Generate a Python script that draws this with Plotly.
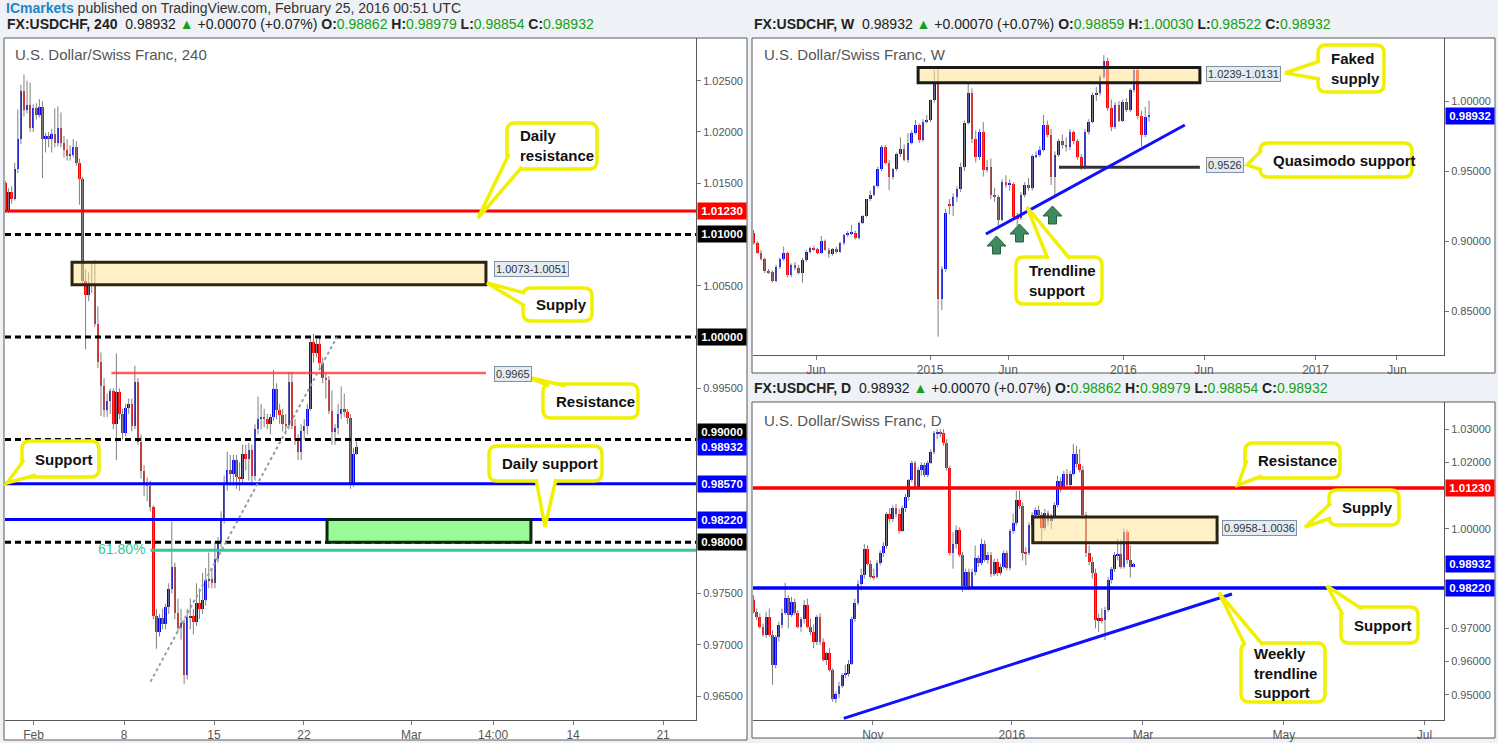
import plotly.graph_objects as go

W, H = 1498, 743

# ---------------- 4H candles (USDCHF 240) ----------------
h4_open = [1.0150,1.0124,1.0141,1.0135,1.0164,1.0193,1.0240,1.0221,1.0226,1.0204,1.0223,1.0217,1.0224,1.0193,1.0196,1.0193,1.0198,1.0189,1.0204,1.0189,
           1.0182,1.0177,1.0178,1.0185,1.0170,1.0154,1.0055,1.0041,1.0050,1.0052,1.0013,0.9976,0.9952,0.9929,0.9938,0.9947,0.9915,0.9946,0.9925,0.9906,
           0.9931,0.9935,0.9913,0.9956,0.9898,0.9869,0.9857,0.9855,0.9834,0.9728,0.9712,0.9726,0.9720,0.9737,0.9754,0.9776,0.9731,0.9716,0.9721,0.9670,
           0.9727,0.9728,0.9722,0.9741,0.9735,0.9744,0.9763,0.9764,0.9760,0.9784,0.9800,0.9822,0.9858,0.9870,0.9866,0.9880,0.9864,0.9862,0.9886,0.9881,
           0.9890,0.9865,0.9910,0.9920,0.9922,0.9920,0.9915,0.9922,0.9949,0.9929,0.9924,0.9915,0.9914,0.9956,0.9913,0.9900,0.9888,0.9908,0.9913,0.9930,
           0.9995,0.9984,0.9993,0.9975,0.9960,0.9958,0.9928,0.9907,0.9911,0.9925,0.9930,0.9927,0.9921,0.9858,0.9886]
h4_high = [1.0152,1.0145,1.0147,1.0170,1.0222,1.0246,1.0256,1.0250,1.0248,1.0227,1.0228,1.0232,1.0230,1.0199,1.0200,1.0203,1.0223,1.0225,1.0219,1.0196,
           1.0193,1.0187,1.0193,1.0191,1.0174,1.0156,1.0066,1.0063,1.0074,1.0075,1.0030,0.9985,0.9960,0.9945,0.9950,0.9950,0.9984,0.9950,0.9930,0.9935,
           0.9940,0.9940,0.9972,0.9960,0.9905,0.9875,0.9863,0.9860,0.9836,0.9735,0.9730,0.9735,0.9740,0.9760,0.9820,0.9780,0.9745,0.9735,0.9725,0.9735,
           0.9745,0.9735,0.9760,0.9755,0.9770,0.9775,0.9790,0.9775,0.9800,0.9805,0.9830,0.9865,0.9888,0.9885,0.9885,0.9885,0.9878,0.9895,0.9895,0.9897,
           0.9895,0.9915,0.9942,0.9935,0.9930,0.9925,0.9925,0.9968,0.9955,0.9935,0.9930,0.9925,0.9966,0.9966,0.9920,0.9905,0.9915,0.9920,0.9935,0.9998,
           1.0003,0.9998,1.0000,0.9980,0.9965,0.9962,0.9948,0.9915,0.9935,0.9952,0.9945,0.9930,0.9925,0.9892,0.9898]
h4_low = [1.0121,1.0121,1.0130,1.0133,1.0160,1.0188,1.0215,1.0218,1.0200,1.0200,1.0212,1.0214,1.0155,1.0180,1.0185,1.0180,1.0185,1.0186,1.0185,1.0175,
          1.0172,1.0172,1.0175,1.0167,1.0129,1.0050,0.9988,1.0035,1.0043,1.0010,0.9970,0.9923,0.9922,0.9922,0.9925,0.9910,0.9880,0.9920,0.9900,0.9903,
          0.9925,0.9908,0.9910,0.9895,0.9862,0.9845,0.9840,0.9830,0.9725,0.9696,0.9708,0.9715,0.9715,0.9730,0.9750,0.9725,0.9712,0.9705,0.9662,0.9666,
          0.9715,0.9710,0.9718,0.9725,0.9730,0.9738,0.9755,0.9755,0.9755,0.9780,0.9795,0.9818,0.9850,0.9855,0.9855,0.9852,0.9850,0.9858,0.9870,0.9860,
          0.9855,0.9860,0.9905,0.9910,0.9912,0.9910,0.9905,0.9918,0.9920,0.9915,0.9908,0.9905,0.9910,0.9910,0.9895,0.9880,0.9880,0.9900,0.9905,0.9928,
          0.9975,0.9980,0.9970,0.9955,0.9940,0.9925,0.9895,0.9895,0.9905,0.9920,0.9922,0.9915,0.9852,0.9854,0.9885]
h4_close = [1.0124,1.0141,1.0135,1.0164,1.0193,1.0240,1.0221,1.0226,1.0204,1.0223,1.0217,1.0224,1.0193,1.0196,1.0193,1.0198,1.0189,1.0204,1.0189,1.0182,
            1.0177,1.0178,1.0185,1.0170,1.0154,1.0055,1.0041,1.0050,1.0052,1.0013,0.9976,0.9952,0.9929,0.9938,0.9947,0.9915,0.9946,0.9925,0.9906,0.9931,
            0.9935,0.9913,0.9956,0.9898,0.9869,0.9857,0.9855,0.9834,0.9728,0.9712,0.9726,0.9720,0.9737,0.9754,0.9776,0.9731,0.9716,0.9721,0.9670,0.9727,
            0.9728,0.9722,0.9741,0.9735,0.9744,0.9763,0.9764,0.9760,0.9784,0.9800,0.9822,0.9858,0.9870,0.9866,0.9880,0.9864,0.9862,0.9886,0.9881,0.9890,
            0.9865,0.9910,0.9920,0.9922,0.9920,0.9915,0.9922,0.9949,0.9929,0.9924,0.9915,0.9914,0.9956,0.9913,0.9900,0.9888,0.9908,0.9913,0.9930,0.9995,
            0.9984,0.9993,0.9975,0.9960,0.9958,0.9928,0.9907,0.9911,0.9925,0.9930,0.9927,0.9921,0.9858,0.9886,0.9893]
h4_tick_text = ["Feb", "8", "15", "22", "Mar", "14:00", "14", "21"]
h4_tick_pos = [9.1, 38.5, 67.7, 96.9, 131.8, 158.3, 184.3, 213.5]

# ---------------- Weekly candles ----------------
w_open = [0.9055,0.8983,0.8917,0.8869,0.8788,0.8776,0.8717,0.8817,0.8869,0.8917,0.8757,0.8829,0.8805,0.8774,0.8864,0.8924,0.8948,0.8941,0.8917,0.9000,
          0.8936,0.8905,0.8941,0.8924,0.8983,0.9043,0.9055,0.9060,0.9019,0.9131,0.9179,0.9298,0.9329,0.9393,0.9512,0.9669,0.9560,0.9455,0.9512,0.9619,
          0.9655,0.9579,0.9702,0.9774,0.9829,0.9720,0.9853,0.9864,1.0007,1.0131,0.8583,0.8798,0.9264,0.9250,0.9312,0.9369,0.9526,0.9841,1.0055,0.9726,
          0.9602,0.9781,0.9507,0.9526,0.9329,0.9317,0.9150,0.9424,0.9400,0.9406,0.9169,0.9162,0.9329,0.9400,0.9376,0.9607,0.9614,0.9650,0.9829,0.9757,
          0.9455,0.9614,0.9714,0.9686,0.9669,0.9781,0.9714,0.9602,0.9531,0.9781,0.9853,1.0043,1.0055,1.0174,1.0288,0.9948,0.9817,0.9971,0.9860,0.9995,
          0.9936,1.0078,1.0221,0.9893,0.9757,0.9886]
w_high = [0.9080,0.9000,0.8935,0.8880,0.8800,0.8790,0.8830,0.8880,0.8960,0.8925,0.8840,0.8850,0.8830,0.8880,0.8935,0.8960,0.8965,0.8950,0.9036,0.9010,
          0.8950,0.8950,0.8960,0.8995,0.9050,0.9070,0.9114,0.9075,0.9140,0.9185,0.9300,0.9360,0.9400,0.9530,0.9686,0.9686,0.9580,0.9520,0.9630,0.9740,
          0.9690,0.9770,0.9790,0.9865,0.9840,0.9870,0.9900,1.0010,1.0222,1.0240,0.8820,0.9230,0.9300,0.9340,0.9390,0.9560,0.9860,1.0129,1.0090,0.9790,
          0.9800,0.9850,0.9580,0.9590,0.9380,0.9330,0.9440,0.9470,0.9440,0.9420,0.9200,0.9350,0.9420,0.9450,0.9620,0.9640,0.9680,0.9900,0.9860,0.9800,
          0.9640,0.9730,0.9760,0.9740,0.9800,0.9790,0.9730,0.9620,0.9800,0.9870,1.0060,1.0100,1.0190,1.0328,1.0310,1.0010,0.9990,1.0000,1.0010,1.0020,
          1.0090,1.0250,1.0240,0.9930,0.9960,1.0003]
w_low = [0.8975,0.8910,0.8860,0.8770,0.8765,0.8702,0.8705,0.8800,0.8860,0.8740,0.8740,0.8790,0.8760,0.8702,0.8850,0.8910,0.8930,0.8905,0.8905,0.8930,
         0.8880,0.8895,0.8910,0.8915,0.8970,0.9030,0.9040,0.9010,0.9010,0.9120,0.9170,0.9285,0.9320,0.9380,0.9500,0.9550,0.9364,0.9440,0.9500,0.9600,
         0.9570,0.9560,0.9690,0.9760,0.9700,0.9710,0.9840,0.9850,0.9990,0.8317,0.8507,0.8780,0.9190,0.9180,0.9280,0.9350,0.9500,0.9830,0.9700,0.9560,
         0.9580,0.9460,0.9490,0.9300,0.9280,0.9091,0.9140,0.9380,0.9360,0.9150,0.9110,0.9150,0.9310,0.9360,0.9360,0.9590,0.9600,0.9640,0.9740,0.9400,
         0.9321,0.9600,0.9660,0.9640,0.9650,0.9690,0.9580,0.9505,0.9510,0.9760,0.9840,1.0000,1.0040,1.0160,0.9930,0.9785,0.9800,0.9850,0.9850,0.9920,
         0.9920,1.0060,0.9870,0.9674,0.9740,0.9852]
w_close = [0.8983,0.8917,0.8869,0.8788,0.8776,0.8717,0.8817,0.8869,0.8917,0.8757,0.8829,0.8805,0.8774,0.8864,0.8924,0.8948,0.8941,0.8917,0.9000,0.8936,
           0.8905,0.8941,0.8924,0.8983,0.9043,0.9055,0.9060,0.9019,0.9131,0.9179,0.9298,0.9329,0.9393,0.9512,0.9669,0.9560,0.9455,0.9512,0.9619,0.9655,
           0.9579,0.9702,0.9774,0.9829,0.9720,0.9853,0.9864,1.0007,1.0131,0.8583,0.8798,0.9198,0.9250,0.9312,0.9369,0.9526,0.9841,1.0055,0.9726,0.9602,
           0.9781,0.9507,0.9526,0.9329,0.9317,0.9150,0.9424,0.9400,0.9406,0.9169,0.9162,0.9329,0.9400,0.9376,0.9607,0.9614,0.9650,0.9829,0.9757,0.9455,
           0.9614,0.9714,0.9686,0.9669,0.9781,0.9714,0.9602,0.9531,0.9781,0.9853,1.0043,1.0055,1.0174,1.0288,0.9948,0.9817,0.9971,0.9860,0.9995,0.9936,
           1.0078,1.0221,0.9893,0.9757,0.9883,0.9893]
w_tick_text = ["Jun", "2015", "Jun", "2016", "Jun", "2017", "Jun"]
w_tick_pos = [16.6, 46.9, 67.6, 98.2, 119.6, 149.2, 170.8]

# ---------------- Daily candles ----------------
d_open = [0.9786,0.9748,0.9734,0.9705,0.9680,0.9735,0.9680,0.9590,0.9675,0.9710,0.9745,0.9791,0.9740,0.9781,0.9747,0.9705,0.9727,0.9771,0.9705,0.9690,
          0.9660,0.9735,0.9660,0.9605,0.9625,0.9575,0.9486,0.9502,0.9527,0.9560,0.9562,0.9593,0.9727,0.9778,0.9834,0.9861,0.9938,0.9894,0.9856,0.9854,
          0.9898,0.9928,0.9948,1.0044,1.0029,1.0062,1.0045,0.9994,1.0062,1.0095,1.0147,1.0197,1.0127,1.0177,1.0192,1.0162,1.0199,1.0232,1.0288,1.0293,
          1.0288,1.0258,1.0182,0.9928,0.9954,0.9996,0.9921,0.9828,0.9871,0.9826,0.9871,0.9911,0.9896,0.9954,0.9906,0.9921,0.9864,0.9900,0.9868,0.9886,
          0.9928,0.9881,0.9993,1.0017,1.0087,1.0069,0.9928,0.9926,1.0011,1.0042,1.0057,1.0042,1.0004,1.0047,1.0025,1.0037,1.0072,1.0144,1.0127,1.0165,
          1.0132,1.0165,1.0225,1.0195,1.0177,1.0042,0.9926,0.9901,0.9866,0.9725,0.9730,0.9725,0.9757,0.9846,0.9878,0.9921,0.9924,0.9886,0.9991,0.9906,
          0.9886]
d_high = [0.9800,0.9760,0.9745,0.9715,0.9750,0.9760,0.9695,0.9680,0.9720,0.9760,0.9838,0.9800,0.9795,0.9790,0.9755,0.9735,0.9785,0.9790,0.9730,0.9712,
          0.9740,0.9745,0.9670,0.9630,0.9640,0.9580,0.9510,0.9540,0.9565,0.9590,0.9605,0.9735,0.9790,0.9845,0.9880,0.9955,0.9950,0.9905,0.9880,0.9905,
          0.9935,0.9960,1.0050,1.0062,1.0070,1.0075,1.0060,1.0070,1.0105,1.0150,1.0205,1.0205,1.0185,1.0200,1.0200,1.0205,1.0240,1.0295,1.0300,1.0300,
          1.0300,1.0270,1.0190,0.9990,1.0010,1.0005,0.9930,0.9880,0.9880,0.9880,0.9950,0.9920,0.9970,0.9965,0.9930,0.9930,0.9910,0.9910,0.9895,0.9935,
          0.9935,1.0000,1.0045,1.0115,1.0115,1.0080,0.9945,1.0020,1.0050,1.0065,1.0070,1.0050,1.0060,1.0055,1.0045,1.0080,1.0160,1.0155,1.0175,1.0180,
          1.0175,1.0255,1.0250,1.0240,1.0190,1.0050,0.9950,0.9915,0.9880,0.9745,0.9760,0.9765,0.9855,0.9885,0.9930,0.9970,0.9968,1.0001,0.9998,0.9950,
          0.9898]
d_low = [0.9745,0.9725,0.9700,0.9675,0.9672,0.9675,0.9530,0.9580,0.9660,0.9700,0.9740,0.9700,0.9735,0.9740,0.9700,0.9690,0.9715,0.9700,0.9680,0.9640,
         0.9650,0.9650,0.9600,0.9590,0.9570,0.9479,0.9475,0.9490,0.9520,0.9550,0.9555,0.9590,0.9720,0.9770,0.9815,0.9850,0.9890,0.9850,0.9845,0.9850,
         0.9890,0.9915,0.9940,1.0020,1.0020,1.0035,0.9985,0.9990,1.0050,1.0085,1.0140,1.0120,1.0120,1.0160,1.0155,1.0155,1.0195,1.0225,1.0270,1.0275,
         1.0250,1.0175,0.9920,0.9880,0.9940,0.9915,0.9810,0.9815,0.9815,0.9820,0.9860,0.9885,0.9890,0.9900,0.9895,0.9855,0.9858,0.9858,0.9860,0.9880,
         0.9875,0.9875,0.9985,1.0010,1.0060,0.9905,0.9890,0.9920,1.0000,1.0030,1.0035,0.9960,0.9995,1.0010,1.0000,1.0030,1.0065,1.0110,1.0120,1.0120,
         1.0125,1.0160,1.0185,1.0170,1.0030,0.9915,0.9890,0.9850,0.9700,0.9690,0.9715,0.9665,0.9750,0.9835,0.9870,0.9905,0.9880,0.9880,0.9895,0.9853,
         0.9885]
d_close = [0.9748,0.9734,0.9705,0.9680,0.9735,0.9680,0.9590,0.9675,0.9710,0.9745,0.9791,0.9740,0.9781,0.9747,0.9705,0.9727,0.9771,0.9705,0.9690,0.9660,
           0.9735,0.9660,0.9605,0.9625,0.9575,0.9486,0.9502,0.9527,0.9560,0.9562,0.9593,0.9727,0.9778,0.9834,0.9861,0.9938,0.9894,0.9856,0.9854,0.9898,
           0.9928,0.9948,1.0044,1.0029,1.0062,1.0045,0.9994,1.0062,1.0095,1.0147,1.0197,1.0127,1.0177,1.0192,1.0162,1.0199,1.0232,1.0288,1.0293,1.0288,
           1.0258,1.0182,0.9928,0.9954,0.9996,0.9921,0.9828,0.9871,0.9826,0.9871,0.9911,0.9896,0.9954,0.9906,0.9921,0.9864,0.9900,0.9868,0.9886,0.9928,
           0.9881,0.9993,1.0017,1.0087,1.0069,0.9928,0.9926,1.0011,1.0042,1.0057,1.0042,1.0004,1.0047,1.0025,1.0037,1.0072,1.0144,1.0127,1.0165,1.0132,
           1.0165,1.0225,1.0195,1.0177,1.0042,0.9926,0.9901,0.9866,0.9725,0.9730,0.9725,0.9757,0.9846,0.9878,0.9921,0.9924,0.9886,0.9991,0.9906,0.9886,
           0.9893]
d_tick_text = ["Nov", "2016", "Mar", "May", "Jul"]
d_tick_pos = [37.7, 81.6, 123.0, 167.5, 211.9]

# ---------------- analysis levels ----------------
h4_red_levels = [1.0123]
h4_dash_levels = [1.0100, 1.0000, 0.9900, 0.9800]
h4_blue_levels = [0.9857, 0.9822]
h4_supply = (1.0051, 1.0073)
h4_minor_res = 0.9965
h4_target_zone = (0.9800, 0.9822)
h4_fib618 = 0.9792
h4_fib_swing = ((47.1, 0.9664), (107.6, 1.0000))
w_supply = (1.0131, 1.0239)
w_qm_support = 0.9526
w_trendline = ((61.7, 0.9050), (114.5, 0.98286))
d_resistance = 1.0123
d_support = 0.9822
d_supply = (0.9958, 1.0036)
d_trendline = ((28.5, 0.94293), (151.1, 0.98037))
last_price = 0.98932

# axis price tags: (panel, level, colour, vertical shift in px)
price_tags = [("h4", 1.0123, "#ff0000", 0), ("h4", 1.0100, "#000000", 0), ("h4", 1.0000, "#000000", 0),
              ("h4", 0.9900, "#000000", 8), ("h4", last_price, "#0000ff", 0), ("h4", 0.9857, "#0000ff", 0),
              ("h4", 0.9822, "#0000ff", 0), ("h4", 0.9800, "#000000", 0), ("w", last_price, "#0000ff", 0),
              ("d", 1.0123, "#ff0000", 0), ("d", last_price, "#0000ff", 0), ("d", 0.9822, "#0000ff", 0)]

FONT_N = "Liberation Sans Narrow, Arial Narrow, Liberation Sans, Arial, sans-serif"
FONT = "Liberation Sans, Arial, sans-serif"

PANELS = {
    "h4": dict(xa="x", ya="y", px=(5, 38, 696, 720), xr=(-0.16, 224.2), yr=(0.96266, 1.02916),
               frame=(4, 38, 747, 740), bw=0.8, dtick=0.005),
    "w": dict(xa="x2", ya="y2", px=(753, 38, 1444, 355), xr=(-0.13, 183.3), yr=(0.81857, 1.045),
              frame=(752, 38, 1495, 373), bw=0.7, dtick=0.05),
    "d": dict(xa="x3", ya="y3", px=(753, 402, 1444, 720), xr=(-0.16, 218.06), yr=(0.94242, 1.0382),
              frame=(752, 402, 1495, 738), bw=0.85, dtick=0.01),
}

fig = go.Figure()
shapes, anns = [], []


def pp(x, y):
    return f"{x / W:.5f},{1 - y / H:.5f}"


def ppu(key):
    p = PANELS[key]
    return (p["px"][3] - p["px"][1]) / (p["yr"][1] - p["yr"][0])


def add_candles(key, o, h, l, c):
    p = PANELS[key]
    idx = list(range(len(o)))
    wx, wy = [], []
    for i in idx:
        wx += [i, i, None]
        wy += [l[i], h[i], None]
    fig.add_trace(go.Scatter(x=wx, y=wy, mode="lines", line=dict(color="#808080", width=1),
                             xaxis=p["xa"], yaxis=p["ya"], hoverinfo="skip", showlegend=False))
    base = [min(a, b) for a, b in zip(o, c)]
    hgt = [max(abs(b - a), 1.3 / ppu(key)) for a, b in zip(o, c)]
    col = ["#0000ff" if b >= a else "#ff0000" for a, b in zip(o, c)]
    fig.add_trace(go.Bar(x=idx, y=hgt, base=base, width=p["bw"], marker=dict(color=col, line=dict(width=0)),
                         xaxis=p["xa"], yaxis=p["ya"], hoverinfo="skip", showlegend=False))


add_candles("h4", h4_open, h4_high, h4_low, h4_close)
add_candles("w", w_open, w_high, w_low, w_close)
add_candles("d", d_open, d_high, d_low, d_close)


def hline(key, y, color, width, dash="solid", xs=None):
    p = PANELS[key]
    xa0, xa1 = xs if xs else p["xr"]
    shapes.append(dict(type="line", xref=p["xa"], yref=p["ya"], x0=xa0, x1=xa1, y0=y, y1=y,
                       line=dict(color=color, width=width, dash=dash)))


def box(key, x0, x1, lo, hi, fill, line, width=3):
    p = PANELS[key]
    shapes.append(dict(type="rect", xref=p["xa"], yref=p["ya"], x0=x0, x1=x1, y0=lo, y1=hi,
                       fillcolor=fill, line=dict(color=line, width=width)))


def seg(key, a, b, color, width, dash="solid"):
    p = PANELS[key]
    shapes.append(dict(type="line", xref=p["xa"], yref=p["ya"], x0=a[0], y0=a[1], x1=b[0], y1=b[1],
                       line=dict(color=color, width=width, dash=dash)))


DASH = "6px,4px"
# 4H drawings
for v in h4_red_levels:
    hline("h4", v, "#ff0000", 3)
for v in h4_dash_levels:
    hline("h4", v, "#000000", 3, DASH)
for v in h4_blue_levels:
    hline("h4", v, "#0000ff", 3)
box("h4", 21.6, 156.0, h4_supply[0], h4_supply[1], "rgba(255,226,146,0.5)", "#2a2410")
hline("h4", h4_minor_res, "rgba(255,40,40,0.75)", 2.5, xs=(34.4, 156.0))
box("h4", 104.4, 170.6, h4_target_zone[0], h4_target_zone[1], "#98fb98", "#0b2a0b")
hline("h4", h4_fib618, "#33c897", 3, xs=(47.1, 224.2))
seg("h4", h4_fib_swing[0], h4_fib_swing[1], "#9a9a9a", 2, "dot")
# Weekly drawings
box("w", 43.7, 118.5, w_supply[0], w_supply[1], "rgba(255,226,146,0.55)", "#1a1a1a")
hline("w", w_qm_support, "#333333", 3, xs=(81.1, 118.5))
seg("w", w_trendline[0], w_trendline[1], "#1010ff", 3)
# Daily drawings
hline("d", d_resistance, "#ff0000", 3.5)
hline("d", d_support, "#0000ff", 3.5)
box("d", 88.2, 146.4, d_supply[0], d_supply[1], "rgba(255,226,146,0.5)", "#2a2410")
seg("d", d_trendline[0], d_trendline[1], "#1010ff", 3)

# frames
for k, p in PANELS.items():
    fx0, fy0, fx1, fy1 = p["frame"]
    shapes.insert(0, dict(type="rect", xref="paper", yref="paper", x0=fx0 / W, x1=fx1 / W,
                          y0=1 - fy1 / H, y1=1 - fy0 / H, fillcolor="#ffffff",
                          line=dict(width=0), layer="below"))
    shapes.append(dict(type="rect", xref="paper", yref="paper", x0=fx0 / W, x1=fx1 / W,
                       y0=1 - fy1 / H, y1=1 - fy0 / H, fillcolor="rgba(0,0,0,0)",
                       line=dict(color="#5a5a5a", width=1)))

# price tags on axes
for key, v, color, ys in price_tags:
    p = PANELS[key]
    anns.append(dict(xref="paper", yref=p["ya"], x=(p["px"][2] + 1) / W, y=v, xanchor="left", yanchor="middle",
                     text=f"<b>{v:.5f}</b>", showarrow=False, bgcolor=color, width=46, height=14,
                     font=dict(color="white", size=11.5, family=FONT), align="center", borderpad=1,
                     yshift=ys))


# value label boxes
def vlabel(text, x, y):
    anns.append(dict(xref="paper", yref="paper", x=x / W, y=1 - y / H, xanchor="left", yanchor="middle",
                     text=text, showarrow=False, bgcolor="#e3ecf3", bordercolor="#7f93a6", borderwidth=1,
                     borderpad=1, font=dict(size=11, color="#333", family=FONT)))


vlabel("1.0073-1.0051", 494, 268.5)
vlabel("0.9965", 494, 374.5)
vlabel("1.0239-1.0131", 1206, 74.5)
vlabel("0.9526", 1206, 165)
vlabel("0.9958-1.0036", 1222, 527.5)

anns.append(dict(xref="paper", yref="paper", x=147 / W, y=1 - 549 / H, xanchor="right", yanchor="middle",
                 text="61.80%", showarrow=False, font=dict(size=14, color="#33c897", family=FONT_N)))


# callouts
def rrect(x0, y0, x1, y1, r):
    return ("M " + pp(x0 + r, y0) + " L " + pp(x1 - r, y0) + " Q " + pp(x1, y0) + " " + pp(x1, y0 + r) +
            " L " + pp(x1, y1 - r) + " Q " + pp(x1, y1) + " " + pp(x1 - r, y1) + " L " + pp(x0 + r, y1) +
            " Q " + pp(x0, y1) + " " + pp(x0, y1 - r) + " L " + pp(x0, y0 + r) + " Q " + pp(x0, y0) + " " +
            pp(x0 + r, y0) + " Z")


YEL = "#f0f000"


def callout(text, bx, b1, b2, tip):
    x0, y0, x1, y1 = bx
    shapes.append(dict(type="path", xref="paper", yref="paper", path=rrect(x0, y0, x1, y1, 8),
                       fillcolor="white", line=dict(color=YEL, width=3.5)))
    shapes.append(dict(type="path", xref="paper", yref="paper",
                       path="M " + pp(*b1) + " L " + pp(*tip) + " L " + pp(*b2),
                       fillcolor="white", line=dict(color=YEL, width=3.5)))
    anns.append(dict(xref="paper", yref="paper", x=(x0 + 11) / W, y=1 - (y0 + y1) / 2 / H,
                     xanchor="left", yanchor="middle", align="left", text=f"<b>{text}</b>", showarrow=False,
                     font=dict(size=15, color="#111", family=FONT_N)))


callout("Daily<br>resistance", (507, 123, 597, 169), (509, 154), (522, 167), (478, 218))
callout("Supply", (523, 288, 592, 321), (525, 293), (525, 306), (487, 283))
callout("Resistance", (543, 384, 638, 418), (549, 386), (566, 386), (527, 377))
callout("Support", (22, 441, 99, 477), (24, 460), (36, 475), (7, 483))
callout("Daily support", (489, 446, 602, 481), (536, 479), (556, 479), (545, 527))
callout("Faked<br>supply", (1318, 45, 1384, 92), (1320, 61), (1320, 79), (1285, 73))
callout("Quasimodo support", (1260, 143, 1412, 177), (1262, 150), (1262, 170), (1247, 165))
callout("Trendline<br>support", (1016, 257, 1102, 304), (1048, 259), (1070, 259), (1027, 207))
callout("Resistance", (1245, 443, 1340, 478), (1247, 460), (1262, 476), (1238, 485))
callout("Supply", (1329, 490, 1399, 525), (1331, 503), (1331, 518), (1305, 527))
callout("Support", (1341, 607, 1418, 643), (1343, 615), (1362, 609), (1327, 586))
callout("Weekly<br>trendline<br>support", (1241, 643, 1325, 702), (1245, 645), (1263, 645), (1219, 593))

# green arrows (weekly trendline touches)
for cx, ty, by in [(996.5, 236, 254), (1019.5, 224, 242), (1052.5, 206, 224)]:
    pts = [(cx, ty), (cx + 9.5, ty + 10), (cx + 4, ty + 10), (cx + 4, by), (cx - 4, by), (cx - 4, ty + 10),
           (cx - 9.5, ty + 10)]
    path = "M " + " L ".join(pp(*q) for q in pts) + " Z"
    shapes.append(dict(type="path", xref="paper", yref="paper", path=path, fillcolor="#3d8a5f",
                       line=dict(color="#2a5f42", width=1)))

# header texts
GREEN = "#14a014"


def header(x, y, tf, o, h, l, c):
    t = (f"<b>FX:USDCHF, {tf}</b>  0.98932 <span style='color:{GREEN}'>▲</span> +0.00070 (+0.07%) "
         f"<b>O:</b><span style='color:{GREEN}'>{o}</span> <b>H:</b><span style='color:{GREEN}'>{h}</span> "
         f"<b>L:</b><span style='color:{GREEN}'>{l}</span> <b>C:</b><span style='color:{GREEN}'>{c}</span>")
    anns.append(dict(xref="paper", yref="paper", x=x / W, y=1 - y / H, xanchor="left", yanchor="middle",
                     text=t, showarrow=False, font=dict(size=14, color="#222", family=FONT_N)))


anns.append(dict(xref="paper", yref="paper", x=4 / W, y=1 - 8 / H, xanchor="left", yanchor="middle",
                 text="<span style='color:#2185c5'><b>ICmarkets</b></span> published on TradingView.com, February 25, 2016 00:51 UTC",
                 showarrow=False, font=dict(size=14, color="#333", family=FONT_N)))
header(5, 24, "240", "0.98862", "0.98979", "0.98854", "0.98932")
header(752, 24, "W", "0.98859", "1.00030", "0.98522", "0.98932")
header(752, 388, "D", "0.98862", "0.98979", "0.98854", "0.98932")

for x, y, t in [(13, 54, "U.S. Dollar/Swiss Franc, 240"), (762, 54, "U.S. Dollar/Swiss Franc, W"),
                (762, 420, "U.S. Dollar/Swiss Franc, D")]:
    anns.append(dict(xref="paper", yref="paper", x=x / W, y=1 - y / H, xanchor="left", yanchor="middle",
                     text=t, showarrow=False, font=dict(size=15, color="#555", family=FONT_N)))

# axes
layout = dict(width=W, height=H, margin=dict(l=0, r=0, t=0, b=0), paper_bgcolor="#eef1f5",
              plot_bgcolor="white", showlegend=False, bargap=0, shapes=shapes, annotations=anns,
              hovermode=False)
ticks_map = {"h4": (h4_tick_pos, h4_tick_text), "w": (w_tick_pos, w_tick_text), "d": (d_tick_pos, d_tick_text)}
for n, (k, p) in enumerate(PANELS.items()):
    sx = "" if n == 0 else str(n + 1)
    x0, y0, x1, y1 = p["px"]
    tv, tt = ticks_map[k]
    lo, hi = p["yr"]
    scale = ppu(k)
    tag_px = [(v * scale - ys) for kk, v, _, ys in price_tags if kk == k]
    yt = []
    v = round(int(lo / p["dtick"]) * p["dtick"], 5)
    while v <= hi:
        if v >= lo and all(abs(v * scale - t) > 13 for t in tag_px):
            yt.append(round(v, 5))
        v = round(v + p["dtick"], 5)
    layout["xaxis" + sx] = dict(domain=[x0 / W, x1 / W], range=list(p["xr"]), anchor="y" + sx,
                                tickvals=tv, ticktext=tt, showgrid=False, zeroline=False, showline=True,
                                linecolor="#5a5a5a", linewidth=1, ticks="outside", ticklen=4, tickcolor="#777",
                                tickfont=dict(size=12, color="#555", family=FONT_N), fixedrange=True)
    layout["yaxis" + sx] = dict(domain=[1 - y1 / H, 1 - y0 / H], range=[lo, hi], anchor="x" + sx, side="right",
                                tickvals=yt, ticktext=[f"{t:.5f}" for t in yt], showgrid=False, zeroline=False,
                                showline=True, linecolor="#5a5a5a", linewidth=1, ticks="outside", ticklen=4,
                                tickcolor="#777", tickfont=dict(size=11, color="#555", family=FONT),
                                fixedrange=True)
fig.update_layout(**layout)

fig.write_html("out.html", config={"displayModeBar": False},
               post_script="document.body.style.margin='0px';document.body.style.overflow='hidden';")
